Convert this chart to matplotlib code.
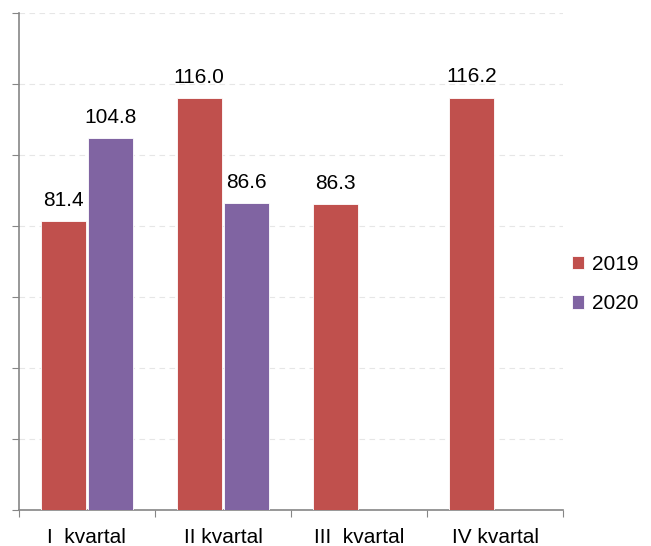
import matplotlib.pyplot as plt
import numpy as np

plt.rcParams['font.family'] = ['Liberation Sans', 'DejaVu Sans']
plt.rcParams['font.size'] = 15

# quarterly values
categories = ['I  kvartal', 'II kvartal', 'III  kvartal', 'IV kvartal']
values_2019 = [81.4, 116.0, 86.3, 116.2]
values_2020 = [104.8, 86.6, np.nan, np.nan]

fig = plt.figure(figsize=(6.51, 5.46), dpi=100)
ax = fig.add_axes([0.029, 0.066, 0.836, 0.910])

x = np.arange(len(categories))
w = 0.33
b1 = ax.bar(x - 0.175, values_2019, w, color='#C0504D', edgecolor='white', linewidth=0.6, label='2019', zorder=3)
b2 = ax.bar(x + 0.175, values_2020, w, color='#8064A2', edgecolor='white', linewidth=0.6, label='2020', zorder=3)

# value labels above bars
for bars, vals in [(b1, values_2019), (b2, values_2020)]:
    for rect, v in zip(bars, vals):
        if np.isnan(v):
            continue
        ax.annotate(f'{v:.1f}', (rect.get_x() + rect.get_width() / 2, v),
                    xytext=(0, 8), textcoords='offset points',
                    ha='center', va='bottom', fontsize=15, color='black')

ax.set_xlim(-0.5, 3.5)
ax.set_ylim(0, 140)
ax.set_yticks(range(0, 141, 20))
ax.set_yticklabels([])
ax.yaxis.grid(True, linestyle=(0, (5, 4)), color='#e6e6e6', linewidth=0.8, zorder=0)

ax.set_xticks(np.arange(-0.5, 4, 1))
ax.set_xticklabels([])
ax.set_xticks(x, minor=True)
ax.set_xticklabels(categories, minor=True)
ax.tick_params(axis='x', which='minor', length=0, pad=13)
ax.tick_params(axis='x', which='major', length=5, color='#868686')
ax.tick_params(axis='y', length=5, color='#868686')

for s in ['top', 'right']:
    ax.spines[s].set_visible(False)
for s in ['left', 'bottom']:
    ax.spines[s].set_color('#868686')
    ax.spines[s].set_linewidth(1.2)

fig.legend(handles=[b1, b2], loc='center left', bbox_to_anchor=(0.878, 0.48),
           frameon=False, borderaxespad=0, borderpad=0,
           handlelength=0.6, handleheight=0.6, handletextpad=0.4,
           labelspacing=1.0, fontsize=15)

fig.savefig('out.png', dpi=100)
